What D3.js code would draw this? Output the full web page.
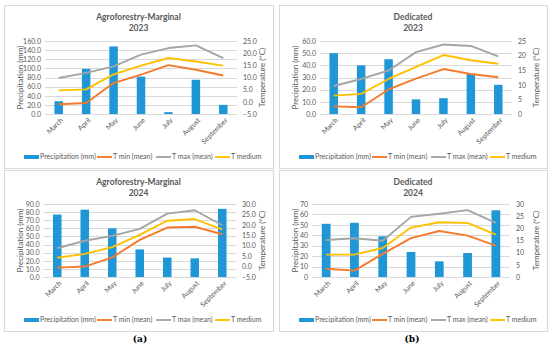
<!DOCTYPE html>
<html lang="en">
<head>
<meta charset="utf-8">
<title>Precipitation and temperature</title>
<script src="https://cdn.jsdelivr.net/npm/d3@7"></script>
<style>
  body { margin: 0; background: #fff; }
  text { font-family: Lato, "Liberation Sans", sans-serif; fill: #595959; }
</style>
</head>
<body>
<script>
// months shown on every panel
var months = ["March", "April", "May", "June", "July", "August", "September"];

// Agroforestry-Marginal 2023
var af23Precip = [28, 99, 148, 82, 4, 75, 20];
var af23Tmin = [-1.0, -0.5, 7.7, 11.2, 15.1, 13.2, 10.8];
var af23Tmax = [9.8, 11.9, 14.6, 19.4, 22.1, 23.2, 18.0];
var af23Tmed = [4.7, 5.1, 11.3, 14.9, 18.0, 16.6, 14.9];

// Dedicated 2023
var d23Precip = [50, 40, 45, 12, 13, 33, 24];
var d23Tmin = [2.6, 2.3, 8.4, 12.1, 15.4, 13.7, 12.6];
var d23Tmax = [9.6, 12.0, 14.9, 21.2, 23.8, 23.3, 19.7];
var d23Tmed = [6.3, 6.9, 12.0, 16.1, 20.2, 18.4, 17.2];

// Agroforestry-Marginal 2024
var af24Precip = [77, 83, 60, 34, 24, 23, 84];
var af24Tmin = [-0.5, 0.0, 4.4, 12.8, 18.7, 19.1, 15.5];
var af24Tmax = [8.8, 12.4, 14.7, 18.1, 25.4, 27.0, 19.8];
var af24Tmed = [4.2, 6.1, 9.3, 15.2, 22.0, 22.8, 17.8];

// Dedicated 2024
var d24Precip = [51, 52, 39, 24, 15, 23, 64];
var d24Tmin = [3.4, 2.6, 9.5, 16.0, 18.9, 17.0, 12.9];
var d24Tmax = [15.2, 15.9, 14.9, 24.7, 26.0, 27.5, 22.2];
var d24Tmed = [9.2, 9.2, 11.9, 20.3, 22.5, 22.2, 17.4];

// axis ticks
var af23PrecipTicks = [0, 20, 40, 60, 80, 100, 120, 140, 160];
var af23TempTicks = [-5, 0, 5, 10, 15, 20, 25];
var d23PrecipTicks = [0, 10, 20, 30, 40, 50, 60];
var d23TempTicks = [0, 5, 10, 15, 20, 25];
var af24PrecipTicks = [0, 10, 20, 30, 40, 50, 60, 70, 80, 90];
var af24TempTicks = [-5, 0, 5, 10, 15, 20, 25, 30];
var d24PrecipTicks = [0, 10, 20, 30, 40, 50, 60, 70];
var d24TempTicks = [0, 5, 10, 15, 20, 25, 30];

var legendNames = ["Precipitation (mm)", "T min (mean)", "T max (mean)", "T medium"];
var colors = { bar: "#1f97d6", tmin: "#f47a2c", tmax: "#a5a5a5", tmed: "#ffc000" };

var svg = d3.select("body").append("svg")
    .attr("width", 550)
    .attr("height", 348);

function drawPanel(p) {
    var g = svg.append("g");

    // panel frame
    g.append("rect")
        .attr("x", p.box[0] + 0.5).attr("y", p.box[1] + 0.5)
        .attr("width", p.box[2] - p.box[0]).attr("height", p.box[3] - p.box[1])
        .attr("fill", "#fff").attr("stroke", "#d9d9d9");

    var x = d3.scaleBand().domain(months).range([p.x0, p.x1]);
    var yL = d3.scaleLinear().domain(p.leftDomain).range([p.y1, p.y0]);
    var yR = d3.scaleLinear().domain(p.rightDomain).range([p.y1, p.y0]);

    // gridlines
    g.selectAll(".grid").data(p.leftTicks).enter().append("line")
        .attr("x1", p.x0).attr("x2", p.x1)
        .attr("y1", function(d) { return Math.round(yL(d)) + 0.5; })
        .attr("y2", function(d) { return Math.round(yL(d)) + 0.5; })
        .attr("stroke", "#d9d9d9").attr("stroke-width", 1);

    // left axis
    var la = g.append("g").attr("transform", "translate(" + p.x0 + ",0)")
        .call(d3.axisLeft(yL).tickValues(p.leftTicks).tickSize(0).tickPadding(4)
            .tickFormat(p.leftFmt));
    la.select(".domain").remove();
    la.selectAll("text").style("font-size", "7px").style("font-family", null).attr("fill", "#595959");

    // right axis
    var ra = g.append("g").attr("transform", "translate(" + p.x1 + ",0)")
        .call(d3.axisRight(yR).tickValues(p.rightTicks).tickSize(0).tickPadding(6)
            .tickFormat(p.rightFmt));
    ra.select(".domain").remove();
    ra.selectAll("text").style("font-size", "7px").style("font-family", null).attr("fill", "#595959");

    // bars
    var bw = x.bandwidth() * 0.31;
    g.selectAll(".bar").data(p.precip).enter().append("rect")
        .attr("x", function(d, i) { return x(months[i]) + x.bandwidth() / 2 - bw / 2; })
        .attr("y", function(d) { return yL(d); })
        .attr("width", bw)
        .attr("height", function(d) { return yL(0) - yL(d); })
        .attr("fill", colors.bar);

    // temperature lines
    var line = d3.line()
        .x(function(d, i) { return x(months[i]) + x.bandwidth() / 2; })
        .y(function(d) { return yR(d); });
    [["tmax", p.tmax], ["tmed", p.tmed], ["tmin", p.tmin]].forEach(function(s) {
        g.append("path").datum(s[1])
            .attr("d", line)
            .attr("fill", "none")
            .attr("stroke", colors[s[0]])
            .attr("stroke-width", 1.9)
            .attr("stroke-linejoin", "round");
    });

    // month labels
    g.selectAll(".month").data(months).enter().append("text")
        .attr("transform", function(d) {
            return "translate(" + (x(d) + x.bandwidth() / 2 + 3) + "," + (p.y1 + 5) + ") rotate(-45)";
        })
        .attr("text-anchor", "end")
        .attr("dy", "0.35em")
        .style("font-size", "7px")
        .text(function(d) { return d; });

    // titles
    var cx = (p.box[0] + p.box[2]) / 2;
    g.append("text").attr("x", cx).attr("y", p.box[1] + 15)
        .attr("text-anchor", "middle").style("font-size", "8.5px").style("font-weight", "bold")
        .text(p.title);
    g.append("text").attr("x", cx).attr("y", p.box[1] + 26)
        .attr("text-anchor", "middle").style("font-size", "8.5px").style("font-weight", "bold")
        .text(p.year);

    // axis titles
    var my = (p.y0 + p.y1) / 2;
    g.append("text")
        .attr("transform", "translate(" + (p.box[0] + 18.5) + "," + my + ") rotate(-90)")
        .attr("text-anchor", "middle").style("font-size", "8px")
        .text("Precipitation (mm)");
    g.append("text")
        .attr("transform", "translate(" + (p.box[2] - 8) + "," + my + ") rotate(-90)")
        .attr("text-anchor", "middle").style("font-size", "8px")
        .text("Temperature (°C)");

    // legend
    var ly = p.box[3] - 11;
    var offs = [20, 93, 152, 211];
    legendNames.forEach(function(name, i) {
        var lx = p.box[0] + offs[i];
        if (i === 0) {
            g.append("rect").attr("x", lx).attr("y", ly - 2).attr("width", 15).attr("height", 4)
                .attr("fill", colors.bar);
        } else {
            var key = ["", "tmin", "tmax", "tmed"][i];
            g.append("line").attr("x1", lx).attr("x2", lx + 15).attr("y1", ly).attr("y2", ly)
                .attr("stroke", colors[key]).attr("stroke-width", 1.9);
        }
        g.append("text").attr("x", lx + 16).attr("y", ly).attr("dy", "0.35em")
            .style("font-size", "7px").text(name);
    });
}

var f1 = d3.format(".1f");
var f0 = d3.format("d");

drawPanel({ box: [4, 5, 273, 168], x0: 45, x1: 237, y0: 41, y1: 114,
    leftDomain: [0, 160], rightDomain: [-5, 25], leftTicks: af23PrecipTicks, rightTicks: af23TempTicks,
    leftFmt: f1, rightFmt: f1, precip: af23Precip, tmin: af23Tmin, tmax: af23Tmax, tmed: af23Tmed,
    title: "Agroforestry-Marginal", year: "2023" });

drawPanel({ box: [279, 5, 547, 168], x0: 320, x1: 512, y0: 41, y1: 114,
    leftDomain: [0, 60], rightDomain: [0, 25], leftTicks: d23PrecipTicks, rightTicks: d23TempTicks,
    leftFmt: f1, rightFmt: f0, precip: d23Precip, tmin: d23Tmin, tmax: d23Tmax, tmed: d23Tmed,
    title: "Dedicated", year: "2023" });

drawPanel({ box: [4, 170, 273, 331], x0: 43.5, x1: 236, y0: 204, y1: 277,
    leftDomain: [0, 90], rightDomain: [-5, 30], leftTicks: af24PrecipTicks, rightTicks: af24TempTicks,
    leftFmt: f1, rightFmt: f1, precip: af24Precip, tmin: af24Tmin, tmax: af24Tmax, tmed: af24Tmed,
    title: "Agroforestry-Marginal", year: "2024" });

drawPanel({ box: [279, 170, 547, 331], x0: 312, x1: 510, y0: 204, y1: 277,
    leftDomain: [0, 70], rightDomain: [0, 30], leftTicks: d24PrecipTicks, rightTicks: d24TempTicks,
    leftFmt: f0, rightFmt: f0, precip: d24Precip, tmin: d24Tmin, tmax: d24Tmax, tmed: d24Tmed,
    title: "Dedicated", year: "2024" });

// sub-figure captions
svg.append("text").attr("x", 140).attr("y", 342).attr("text-anchor", "middle")
    .style("font-family", "'DejaVu Serif', serif").style("font-size", "9px").style("font-weight", "bold")
    .style("fill", "#000").text("(a)");
svg.append("text").attr("x", 412).attr("y", 342).attr("text-anchor", "middle")
    .style("font-family", "'DejaVu Serif', serif").style("font-size", "9px").style("font-weight", "bold")
    .style("fill", "#000").text("(b)");
</script>
</body>
</html>
